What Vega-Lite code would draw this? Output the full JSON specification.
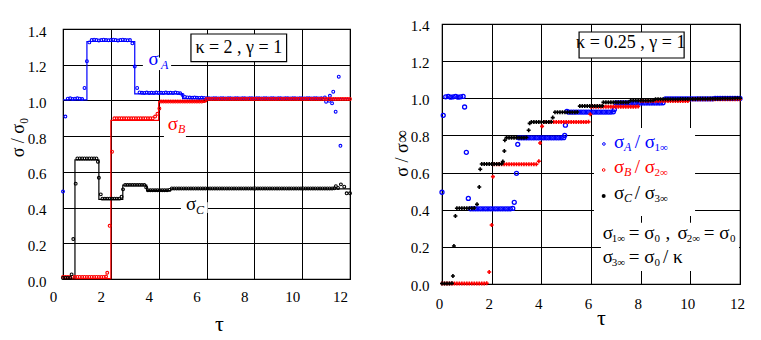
{
"$schema":"https://vega.github.io/schema/vega-lite/v6.json",
"background":"white",
"padding":{"left":8,"top":17,"right":0,"bottom":0},
"config":{
 "font":"Liberation Serif",
 "view":{"stroke":"black","strokeWidth":1.2},
 "axis":{"grid":true,"gridColor":"black","gridWidth":1,"gridOpacity":1,"domain":false,"ticks":false,"labelFlush":false,"labelOverlap":false,"labelFont":"Liberation Serif","labelFontSize":15,"labelColor":"black","titleFont":"Liberation Serif","titleFontWeight":"normal","titleColor":"black"},
 "text":{"font":"Liberation Serif"}
},
"datasets":{
"Ll":[{"s":"A","t":0,"v":1.003},{"s":"A","t":1,"v":1.33},{"s":"A","t":3,"v":1.037},{"s":"A","t":5,"v":1.01},{"s":"A","t":12,"v":1.01},
{"s":"B","t":0,"v":0.002},{"s":"B","t":2,"v":0.888},{"s":"B","t":4,"v":0.993},{"s":"B","t":6,"v":1.008},{"s":"B","t":12,"v":1.008},
{"s":"C","t":0,"v":0.004},{"s":"C","t":0.5,"v":0.667},{"s":"C","t":1.5,"v":0.446},{"s":"C","t":2.5,"v":0.526},{"s":"C","t":3.5,"v":0.495},{"s":"C","t":4.5,"v":0.505},{"s":"C","t":12,"v":0.505}],
"Lp":[
{"s":"A","t":0,"v":0.49},{"s":"A","t":0.1,"v":0.91},{"s":"A","t":0.2,"v":1.01},{"s":"A","t":0.3,"v":1.012},{"s":"A","t":0.4,"v":1.008},{"s":"A","t":0.5,"v":1.01},{"s":"A","t":0.6,"v":1.012},{"s":"A","t":0.7,"v":1.01},{"s":"A","t":0.8,"v":1.008},{"s":"A","t":0.9,"v":1.07},{"s":"A","t":1,"v":1.22},{"s":"A","t":1.1,"v":1.325},{"s":"A","t":1.2,"v":1.338},{"s":"A","t":1.3,"v":1.34},{"s":"A","t":1.4,"v":1.338},{"s":"A","t":1.5,"v":1.336},{"s":"A","t":1.6,"v":1.338},{"s":"A","t":1.7,"v":1.34},{"s":"A","t":1.8,"v":1.338},{"s":"A","t":1.9,"v":1.337},{"s":"A","t":2,"v":1.338},{"s":"A","t":2.1,"v":1.34},{"s":"A","t":2.2,"v":1.338},{"s":"A","t":2.3,"v":1.336},{"s":"A","t":2.4,"v":1.338},{"s":"A","t":2.5,"v":1.34},{"s":"A","t":2.6,"v":1.338},{"s":"A","t":2.7,"v":1.337},{"s":"A","t":2.8,"v":1.338},{"s":"A","t":2.9,"v":1.32},{"s":"A","t":3,"v":1.19},{"s":"A","t":3.1,"v":1.07},{"s":"A","t":3.2,"v":1.045},{"s":"A","t":3.3,"v":1.043},{"s":"A","t":3.4,"v":1.042},{"s":"A","t":3.5,"v":1.044},{"s":"A","t":3.6,"v":1.042},{"s":"A","t":3.7,"v":1.043},{"s":"A","t":3.8,"v":1.042},{"s":"A","t":3.9,"v":1.044},{"s":"A","t":4,"v":1.042},{"s":"A","t":4.1,"v":1.043},{"s":"A","t":4.2,"v":1.042},{"s":"A","t":4.3,"v":1.044},{"s":"A","t":4.4,"v":1.042},{"s":"A","t":4.5,"v":1.043},{"s":"A","t":4.6,"v":1.042},{"s":"A","t":4.7,"v":1.044},{"s":"A","t":4.8,"v":1.042},{"s":"A","t":4.9,"v":1.04},{"s":"A","t":5,"v":1.03},{"s":"A","t":5.1,"v":1.02},{"s":"A","t":5.2,"v":1.017},{"s":"A","t":5.3,"v":1.016},{"s":"A","t":5.4,"v":1.015},{"s":"A","t":5.5,"v":1.016},{"s":"A","t":5.6,"v":1.015},{"s":"A","t":5.7,"v":1.014},{"s":"A","t":5.8,"v":1.015},{"s":"A","t":5.9,"v":1.014},{"s":"A","t":6,"v":1.013},
{"s":"A","t":6.1,"v":1.012},{"s":"A","t":6.2,"v":1.011},{"s":"A","t":6.3,"v":1.013},{"s":"A","t":6.4,"v":1.012},{"s":"A","t":6.5,"v":1.011},{"s":"A","t":6.6,"v":1.013},{"s":"A","t":6.7,"v":1.012},{"s":"A","t":6.8,"v":1.011},{"s":"A","t":6.9,"v":1.013},{"s":"A","t":7,"v":1.012},{"s":"A","t":7.1,"v":1.011},{"s":"A","t":7.2,"v":1.013},{"s":"A","t":7.3,"v":1.012},{"s":"A","t":7.4,"v":1.011},{"s":"A","t":7.5,"v":1.013},{"s":"A","t":7.6,"v":1.012},{"s":"A","t":7.7,"v":1.011},{"s":"A","t":7.8,"v":1.013},{"s":"A","t":7.9,"v":1.012},{"s":"A","t":8,"v":1.011},{"s":"A","t":8.1,"v":1.013},{"s":"A","t":8.2,"v":1.012},{"s":"A","t":8.3,"v":1.011},{"s":"A","t":8.4,"v":1.013},{"s":"A","t":8.5,"v":1.012},{"s":"A","t":8.6,"v":1.011},{"s":"A","t":8.7,"v":1.013},{"s":"A","t":8.8,"v":1.012},{"s":"A","t":8.9,"v":1.011},{"s":"A","t":9,"v":1.013},{"s":"A","t":9.1,"v":1.012},{"s":"A","t":9.2,"v":1.011},{"s":"A","t":9.3,"v":1.013},{"s":"A","t":9.4,"v":1.012},{"s":"A","t":9.5,"v":1.011},{"s":"A","t":9.6,"v":1.013},{"s":"A","t":9.7,"v":1.012},{"s":"A","t":9.8,"v":1.011},{"s":"A","t":9.9,"v":1.013},{"s":"A","t":10,"v":1.012},{"s":"A","t":10.1,"v":1.011},{"s":"A","t":10.2,"v":1.013},{"s":"A","t":10.3,"v":1.012},{"s":"A","t":10.4,"v":1.011},{"s":"A","t":10.5,"v":1.013},{"s":"A","t":10.6,"v":1.012},{"s":"A","t":10.7,"v":1.011},{"s":"A","t":10.8,"v":1.013},
{"s":"A","t":10.95,"v":1.017},{"s":"A","t":11,"v":0.993},{"s":"A","t":11.13,"v":0.998},{"s":"A","t":11.16,"v":1.026},{"s":"A","t":11.25,"v":0.984},{"s":"A","t":11.3,"v":1.049},{"s":"A","t":11.4,"v":0.937},{"s":"A","t":11.53,"v":1.133},{"s":"A","t":11.6,"v":0.746},
{"s":"B","t":0,"v":0.012},{"s":"B","t":0.1,"v":0.012},{"s":"B","t":0.2,"v":0.012},{"s":"B","t":0.3,"v":0.012},{"s":"B","t":0.4,"v":0.012},{"s":"B","t":0.5,"v":0.012},{"s":"B","t":0.6,"v":0.012},{"s":"B","t":0.7,"v":0.012},{"s":"B","t":0.8,"v":0.012},{"s":"B","t":0.9,"v":0.012},{"s":"B","t":1,"v":0.012},{"s":"B","t":1.1,"v":0.012},{"s":"B","t":1.2,"v":0.012},{"s":"B","t":1.3,"v":0.012},{"s":"B","t":1.4,"v":0.012},{"s":"B","t":1.5,"v":0.012},{"s":"B","t":1.6,"v":0.012},{"s":"B","t":1.7,"v":0.012},{"s":"B","t":1.8,"v":0.014},
{"s":"B","t":1.85,"v":0.035},{"s":"B","t":1.95,"v":0.298},{"s":"B","t":2.05,"v":0.713},
{"s":"B","t":2.15,"v":0.9},{"s":"B","t":2.25,"v":0.9},{"s":"B","t":2.35,"v":0.9},{"s":"B","t":2.45,"v":0.9},{"s":"B","t":2.55,"v":0.9},{"s":"B","t":2.65,"v":0.9},{"s":"B","t":2.75,"v":0.9},{"s":"B","t":2.85,"v":0.9},{"s":"B","t":2.95,"v":0.9},{"s":"B","t":3.05,"v":0.9},{"s":"B","t":3.15,"v":0.9},{"s":"B","t":3.25,"v":0.9},{"s":"B","t":3.35,"v":0.9},{"s":"B","t":3.45,"v":0.9},{"s":"B","t":3.55,"v":0.9},{"s":"B","t":3.65,"v":0.9},{"s":"B","t":3.75,"v":0.9},
{"s":"B","t":3.85,"v":0.91},{"s":"B","t":3.95,"v":0.925},{"s":"B","t":4.03,"v":0.955},
{"s":"B","t":4.1,"v":0.994},{"s":"B","t":4.2,"v":0.994},{"s":"B","t":4.3,"v":0.994},{"s":"B","t":4.4,"v":0.994},{"s":"B","t":4.5,"v":0.994},{"s":"B","t":4.6,"v":0.994},{"s":"B","t":4.7,"v":0.994},{"s":"B","t":4.8,"v":0.994},{"s":"B","t":4.9,"v":0.994},{"s":"B","t":5,"v":0.994},{"s":"B","t":5.1,"v":0.994},{"s":"B","t":5.2,"v":0.994},{"s":"B","t":5.3,"v":0.994},{"s":"B","t":5.4,"v":0.994},{"s":"B","t":5.5,"v":0.994},{"s":"B","t":5.6,"v":0.994},{"s":"B","t":5.7,"v":0.994},{"s":"B","t":5.8,"v":0.994},{"s":"B","t":5.9,"v":0.996},
{"s":"B","t":6,"v":1.008},{"s":"B","t":6.1,"v":1.008},{"s":"B","t":6.2,"v":1.008},{"s":"B","t":6.3,"v":1.008},{"s":"B","t":6.4,"v":1.008},{"s":"B","t":6.5,"v":1.008},{"s":"B","t":6.6,"v":1.008},{"s":"B","t":6.7,"v":1.008},{"s":"B","t":6.8,"v":1.008},{"s":"B","t":6.9,"v":1.008},{"s":"B","t":7,"v":1.008},{"s":"B","t":7.1,"v":1.008},{"s":"B","t":7.2,"v":1.008},{"s":"B","t":7.3,"v":1.008},{"s":"B","t":7.4,"v":1.008},{"s":"B","t":7.5,"v":1.008},{"s":"B","t":7.6,"v":1.008},{"s":"B","t":7.7,"v":1.008},{"s":"B","t":7.8,"v":1.008},{"s":"B","t":7.9,"v":1.008},{"s":"B","t":8,"v":1.008},{"s":"B","t":8.1,"v":1.008},{"s":"B","t":8.2,"v":1.008},{"s":"B","t":8.3,"v":1.008},{"s":"B","t":8.4,"v":1.008},{"s":"B","t":8.5,"v":1.008},{"s":"B","t":8.6,"v":1.008},{"s":"B","t":8.7,"v":1.008},{"s":"B","t":8.8,"v":1.008},{"s":"B","t":8.9,"v":1.008},{"s":"B","t":9,"v":1.008},{"s":"B","t":9.1,"v":1.008},{"s":"B","t":9.2,"v":1.008},{"s":"B","t":9.3,"v":1.008},{"s":"B","t":9.4,"v":1.008},{"s":"B","t":9.5,"v":1.008},{"s":"B","t":9.6,"v":1.008},{"s":"B","t":9.7,"v":1.008},{"s":"B","t":9.8,"v":1.008},{"s":"B","t":9.9,"v":1.008},{"s":"B","t":10,"v":1.008},{"s":"B","t":10.1,"v":1.008},{"s":"B","t":10.2,"v":1.008},{"s":"B","t":10.3,"v":1.008},{"s":"B","t":10.4,"v":1.008},{"s":"B","t":10.5,"v":1.008},{"s":"B","t":10.6,"v":1.008},{"s":"B","t":10.7,"v":1.008},{"s":"B","t":10.8,"v":1.008},{"s":"B","t":10.9,"v":1.008},{"s":"B","t":11,"v":1.008},{"s":"B","t":11.1,"v":1.008},{"s":"B","t":11.2,"v":1.008},{"s":"B","t":11.3,"v":1.008},{"s":"B","t":11.4,"v":1.008},{"s":"B","t":11.5,"v":1.008},{"s":"B","t":11.6,"v":1.008},{"s":"B","t":11.7,"v":1.008},{"s":"B","t":11.8,"v":1.008},{"s":"B","t":11.9,"v":1.008},{"s":"B","t":12,"v":1.008},
{"s":"C","t":0,"v":0.006},{"s":"C","t":0.1,"v":0.006},{"s":"C","t":0.2,"v":0.006},{"s":"C","t":0.3,"v":0.006},{"s":"C","t":0.36,"v":0.026},{"s":"C","t":0.43,"v":0.224},{"s":"C","t":0.53,"v":0.534},
{"s":"C","t":0.6,"v":0.675},{"s":"C","t":0.7,"v":0.675},{"s":"C","t":0.8,"v":0.675},{"s":"C","t":0.9,"v":0.675},{"s":"C","t":1,"v":0.675},{"s":"C","t":1.1,"v":0.675},{"s":"C","t":1.2,"v":0.675},{"s":"C","t":1.3,"v":0.675},{"s":"C","t":1.4,"v":0.675},
{"s":"C","t":1.46,"v":0.657},{"s":"C","t":1.5,"v":0.567},{"s":"C","t":1.58,"v":0.474},
{"s":"C","t":1.65,"v":0.45},{"s":"C","t":1.75,"v":0.45},{"s":"C","t":1.85,"v":0.45},{"s":"C","t":1.95,"v":0.45},{"s":"C","t":2.05,"v":0.45},{"s":"C","t":2.15,"v":0.45},{"s":"C","t":2.25,"v":0.45},{"s":"C","t":2.35,"v":0.45},
{"s":"C","t":2.45,"v":0.461},{"s":"C","t":2.51,"v":0.502},
{"s":"C","t":2.6,"v":0.527},{"s":"C","t":2.7,"v":0.527},{"s":"C","t":2.8,"v":0.527},{"s":"C","t":2.9,"v":0.527},{"s":"C","t":3,"v":0.527},{"s":"C","t":3.1,"v":0.527},{"s":"C","t":3.2,"v":0.527},{"s":"C","t":3.3,"v":0.527},{"s":"C","t":3.4,"v":0.527},
{"s":"C","t":3.48,"v":0.513},
{"s":"C","t":3.55,"v":0.497},{"s":"C","t":3.65,"v":0.497},{"s":"C","t":3.75,"v":0.497},{"s":"C","t":3.85,"v":0.497},{"s":"C","t":3.95,"v":0.497},{"s":"C","t":4.05,"v":0.497},{"s":"C","t":4.15,"v":0.497},{"s":"C","t":4.25,"v":0.497},{"s":"C","t":4.35,"v":0.497},{"s":"C","t":4.45,"v":0.499},
{"s":"C","t":4.55,"v":0.507},{"s":"C","t":4.65,"v":0.507},{"s":"C","t":4.75,"v":0.507},{"s":"C","t":4.85,"v":0.507},{"s":"C","t":4.95,"v":0.507},{"s":"C","t":5.05,"v":0.507},{"s":"C","t":5.15,"v":0.507},{"s":"C","t":5.25,"v":0.507},{"s":"C","t":5.35,"v":0.507},{"s":"C","t":5.45,"v":0.507},{"s":"C","t":5.55,"v":0.507},{"s":"C","t":5.65,"v":0.507},{"s":"C","t":5.75,"v":0.507},{"s":"C","t":5.85,"v":0.507},{"s":"C","t":5.95,"v":0.507},{"s":"C","t":6.05,"v":0.507},{"s":"C","t":6.15,"v":0.507},{"s":"C","t":6.25,"v":0.507},{"s":"C","t":6.35,"v":0.507},{"s":"C","t":6.45,"v":0.507},{"s":"C","t":6.55,"v":0.507},{"s":"C","t":6.65,"v":0.507},{"s":"C","t":6.75,"v":0.507},{"s":"C","t":6.85,"v":0.507},{"s":"C","t":6.95,"v":0.507},{"s":"C","t":7.05,"v":0.507},{"s":"C","t":7.15,"v":0.507},{"s":"C","t":7.25,"v":0.507},{"s":"C","t":7.35,"v":0.507},{"s":"C","t":7.45,"v":0.507},{"s":"C","t":7.55,"v":0.507},{"s":"C","t":7.65,"v":0.507},{"s":"C","t":7.75,"v":0.507},{"s":"C","t":7.85,"v":0.507},{"s":"C","t":7.95,"v":0.507},{"s":"C","t":8.05,"v":0.507},{"s":"C","t":8.15,"v":0.507},{"s":"C","t":8.25,"v":0.507},{"s":"C","t":8.35,"v":0.507},{"s":"C","t":8.45,"v":0.507},{"s":"C","t":8.55,"v":0.507},{"s":"C","t":8.65,"v":0.507},{"s":"C","t":8.75,"v":0.507},{"s":"C","t":8.85,"v":0.507},{"s":"C","t":8.95,"v":0.507},{"s":"C","t":9.05,"v":0.507},{"s":"C","t":9.15,"v":0.507},{"s":"C","t":9.25,"v":0.507},{"s":"C","t":9.35,"v":0.507},{"s":"C","t":9.45,"v":0.507},{"s":"C","t":9.55,"v":0.507},{"s":"C","t":9.65,"v":0.507},{"s":"C","t":9.75,"v":0.507},{"s":"C","t":9.85,"v":0.507},{"s":"C","t":9.95,"v":0.507},{"s":"C","t":10.05,"v":0.507},{"s":"C","t":10.15,"v":0.507},{"s":"C","t":10.25,"v":0.507},{"s":"C","t":10.35,"v":0.507},{"s":"C","t":10.45,"v":0.507},{"s":"C","t":10.55,"v":0.507},{"s":"C","t":10.65,"v":0.507},{"s":"C","t":10.75,"v":0.507},{"s":"C","t":10.85,"v":0.507},{"s":"C","t":10.95,"v":0.507},{"s":"C","t":11.05,"v":0.507},{"s":"C","t":11.15,"v":0.507},{"s":"C","t":11.25,"v":0.507},{"s":"C","t":11.35,"v":0.508},
{"s":"C","t":11.41,"v":0.52},{"s":"C","t":11.5,"v":0.51},{"s":"C","t":11.62,"v":0.53},{"s":"C","t":11.76,"v":0.517},{"s":"C","t":11.86,"v":0.48},{"s":"C","t":12,"v":0.48}
],
"Lr":[{"t":3.34,"t2":4.52,"v":1.17,"v2":1.24},{"t":4.22,"t2":5.14,"v":0.78,"v2":0.83},{"t":4.93,"t2":6.05,"v":0.37,"v2":0.43}],
"Lb":[{"t":5.35,"t2":9.35,"v":1.217,"v2":1.372}],
"Lt":[{"s":"A","k":"m","t":3.58,"v":1.198,"txt":"σ"},{"s":"A","k":"si","t":4.1,"v":1.176,"txt":"A"},
{"s":"B","k":"m","t":4.38,"v":0.834,"txt":"σ"},{"s":"B","k":"si","t":4.81,"v":0.816,"txt":"B"},
{"s":"C","k":"m","t":5.14,"v":0.386,"txt":"σ"},{"s":"C","k":"si","t":5.56,"v":0.364,"txt":"C"},
{"s":"K","k":"b","t":7.35,"v":1.267,"txt":"κ = 2 , γ = 1"}],
"Rp":[
{"s":"A","t":0,"v":0.494},{"s":"A","t":0.05,"v":0.908},{"s":"A","t":0.15,"v":1.008},{"s":"A","t":0.25,"v":1.01},{"s":"A","t":0.35,"v":1.006},{"s":"A","t":0.45,"v":1.008},{"s":"A","t":0.55,"v":1.01},{"s":"A","t":0.65,"v":1.006},{"s":"A","t":0.75,"v":1.008},{"s":"A","t":0.85,"v":1.01},
{"s":"A","t":0.91,"v":0.953},{"s":"A","t":0.98,"v":0.709},{"s":"A","t":1.06,"v":0.461},
{"s":"A","t":1.15,"v":0.405},{"s":"A","t":1.25,"v":0.405},{"s":"A","t":1.35,"v":0.405},{"s":"A","t":1.45,"v":0.405},{"s":"A","t":1.55,"v":0.405},{"s":"A","t":1.65,"v":0.405},{"s":"A","t":1.75,"v":0.405},{"s":"A","t":1.85,"v":0.405},{"s":"A","t":1.95,"v":0.405},{"s":"A","t":2.05,"v":0.405},{"s":"A","t":2.15,"v":0.405},{"s":"A","t":2.25,"v":0.405},{"s":"A","t":2.35,"v":0.405},{"s":"A","t":2.45,"v":0.405},{"s":"A","t":2.55,"v":0.405},{"s":"A","t":2.65,"v":0.405},{"s":"A","t":2.75,"v":0.405},{"s":"A","t":2.85,"v":0.407},
{"s":"A","t":2.91,"v":0.44},{"s":"A","t":3,"v":0.596},{"s":"A","t":3.05,"v":0.752},
{"s":"A","t":3.1,"v":0.787},{"s":"A","t":3.2,"v":0.787},{"s":"A","t":3.3,"v":0.787},{"s":"A","t":3.4,"v":0.787},{"s":"A","t":3.5,"v":0.787},{"s":"A","t":3.6,"v":0.787},{"s":"A","t":3.7,"v":0.787},{"s":"A","t":3.8,"v":0.787},{"s":"A","t":3.9,"v":0.787},{"s":"A","t":4,"v":0.787},{"s":"A","t":4.1,"v":0.787},{"s":"A","t":4.2,"v":0.787},{"s":"A","t":4.3,"v":0.787},{"s":"A","t":4.4,"v":0.787},{"s":"A","t":4.5,"v":0.787},{"s":"A","t":4.6,"v":0.787},{"s":"A","t":4.7,"v":0.787},{"s":"A","t":4.8,"v":0.787},{"s":"A","t":4.9,"v":0.788},
{"s":"A","t":4.94,"v":0.8},{"s":"A","t":4.97,"v":0.855},{"s":"A","t":5.03,"v":0.93},
{"s":"A","t":5.1,"v":0.926},{"s":"A","t":5.2,"v":0.926},{"s":"A","t":5.3,"v":0.926},{"s":"A","t":5.4,"v":0.926},{"s":"A","t":5.5,"v":0.926},{"s":"A","t":5.6,"v":0.926},{"s":"A","t":5.7,"v":0.926},{"s":"A","t":5.8,"v":0.926},{"s":"A","t":5.9,"v":0.926},{"s":"A","t":6,"v":0.926},{"s":"A","t":6.1,"v":0.926},{"s":"A","t":6.2,"v":0.926},{"s":"A","t":6.3,"v":0.926},{"s":"A","t":6.4,"v":0.926},{"s":"A","t":6.5,"v":0.926},{"s":"A","t":6.6,"v":0.926},{"s":"A","t":6.7,"v":0.926},{"s":"A","t":6.8,"v":0.926},{"s":"A","t":6.9,"v":0.927},
{"s":"A","t":6.94,"v":0.94},
{"s":"A","t":7,"v":0.975},{"s":"A","t":7.1,"v":0.975},{"s":"A","t":7.2,"v":0.975},{"s":"A","t":7.3,"v":0.975},{"s":"A","t":7.4,"v":0.975},{"s":"A","t":7.5,"v":0.975},{"s":"A","t":7.6,"v":0.975},{"s":"A","t":7.7,"v":0.975},{"s":"A","t":7.8,"v":0.975},{"s":"A","t":7.9,"v":0.975},{"s":"A","t":8,"v":0.975},{"s":"A","t":8.1,"v":0.975},{"s":"A","t":8.2,"v":0.975},{"s":"A","t":8.3,"v":0.975},{"s":"A","t":8.4,"v":0.975},{"s":"A","t":8.5,"v":0.975},{"s":"A","t":8.6,"v":0.975},{"s":"A","t":8.7,"v":0.975},{"s":"A","t":8.8,"v":0.975},{"s":"A","t":8.9,"v":0.976},
{"s":"A","t":9,"v":0.997},{"s":"A","t":9.1,"v":0.997},{"s":"A","t":9.2,"v":0.997},{"s":"A","t":9.3,"v":0.997},{"s":"A","t":9.4,"v":0.997},{"s":"A","t":9.5,"v":0.997},{"s":"A","t":9.6,"v":0.997},{"s":"A","t":9.7,"v":0.997},{"s":"A","t":9.8,"v":0.997},{"s":"A","t":9.9,"v":0.997},{"s":"A","t":10,"v":0.997},{"s":"A","t":10.1,"v":0.997},{"s":"A","t":10.2,"v":0.997},{"s":"A","t":10.3,"v":0.997},{"s":"A","t":10.4,"v":0.997},{"s":"A","t":10.5,"v":0.997},{"s":"A","t":10.6,"v":0.997},{"s":"A","t":10.7,"v":0.997},{"s":"A","t":10.8,"v":0.997},{"s":"A","t":10.9,"v":0.997},{"s":"A","t":11,"v":0.999},{"s":"A","t":11.1,"v":0.999},{"s":"A","t":11.2,"v":0.999},{"s":"A","t":11.3,"v":0.999},{"s":"A","t":11.4,"v":0.999},{"s":"A","t":11.5,"v":0.999},{"s":"A","t":11.6,"v":0.999},{"s":"A","t":11.7,"v":0.999},{"s":"A","t":11.8,"v":0.999},{"s":"A","t":11.9,"v":0.999},{"s":"A","t":12,"v":0.999},
{"s":"B","t":0,"v":0.003},{"s":"B","t":0.1,"v":0.003},{"s":"B","t":0.2,"v":0.003},{"s":"B","t":0.3,"v":0.003},{"s":"B","t":0.4,"v":0.003},{"s":"B","t":0.5,"v":0.003},{"s":"B","t":0.6,"v":0.003},{"s":"B","t":0.7,"v":0.003},{"s":"B","t":0.8,"v":0.003},{"s":"B","t":0.9,"v":0.003},{"s":"B","t":1,"v":0.003},{"s":"B","t":1.1,"v":0.003},{"s":"B","t":1.2,"v":0.003},{"s":"B","t":1.3,"v":0.003},{"s":"B","t":1.4,"v":0.003},{"s":"B","t":1.5,"v":0.003},{"s":"B","t":1.6,"v":0.003},{"s":"B","t":1.7,"v":0.003},{"s":"B","t":1.8,"v":0.004},
{"s":"B","t":1.9,"v":0.065},{"s":"B","t":2,"v":0.318},{"s":"B","t":2.05,"v":0.578},
{"s":"B","t":2.1,"v":0.645},{"s":"B","t":2.2,"v":0.645},{"s":"B","t":2.3,"v":0.645},{"s":"B","t":2.4,"v":0.645},{"s":"B","t":2.5,"v":0.645},{"s":"B","t":2.6,"v":0.645},{"s":"B","t":2.7,"v":0.645},{"s":"B","t":2.8,"v":0.645},{"s":"B","t":2.9,"v":0.645},{"s":"B","t":3,"v":0.645},{"s":"B","t":3.1,"v":0.645},{"s":"B","t":3.2,"v":0.645},{"s":"B","t":3.3,"v":0.645},{"s":"B","t":3.4,"v":0.645},{"s":"B","t":3.5,"v":0.645},{"s":"B","t":3.6,"v":0.645},{"s":"B","t":3.7,"v":0.645},{"s":"B","t":3.8,"v":0.645},
{"s":"B","t":3.9,"v":0.661},{"s":"B","t":3.95,"v":0.759},{"s":"B","t":4.03,"v":0.849},
{"s":"B","t":4.1,"v":0.872},{"s":"B","t":4.2,"v":0.872},{"s":"B","t":4.3,"v":0.872},{"s":"B","t":4.4,"v":0.872},{"s":"B","t":4.5,"v":0.872},{"s":"B","t":4.6,"v":0.872},{"s":"B","t":4.7,"v":0.872},{"s":"B","t":4.8,"v":0.872},{"s":"B","t":4.9,"v":0.872},{"s":"B","t":5,"v":0.872},{"s":"B","t":5.1,"v":0.872},{"s":"B","t":5.2,"v":0.872},{"s":"B","t":5.3,"v":0.872},{"s":"B","t":5.4,"v":0.872},{"s":"B","t":5.5,"v":0.872},{"s":"B","t":5.6,"v":0.872},{"s":"B","t":5.7,"v":0.872},{"s":"B","t":5.8,"v":0.872},{"s":"B","t":5.9,"v":0.873},
{"s":"B","t":5.97,"v":0.914},
{"s":"B","t":6,"v":0.955},{"s":"B","t":6.1,"v":0.955},{"s":"B","t":6.2,"v":0.955},{"s":"B","t":6.3,"v":0.955},{"s":"B","t":6.4,"v":0.955},{"s":"B","t":6.5,"v":0.955},{"s":"B","t":6.6,"v":0.955},{"s":"B","t":6.7,"v":0.955},{"s":"B","t":6.8,"v":0.955},{"s":"B","t":6.9,"v":0.955},{"s":"B","t":7,"v":0.955},{"s":"B","t":7.1,"v":0.955},{"s":"B","t":7.2,"v":0.955},{"s":"B","t":7.3,"v":0.955},{"s":"B","t":7.4,"v":0.955},{"s":"B","t":7.5,"v":0.955},{"s":"B","t":7.6,"v":0.955},{"s":"B","t":7.7,"v":0.955},{"s":"B","t":7.8,"v":0.955},{"s":"B","t":7.9,"v":0.956},
{"s":"B","t":8,"v":0.985},{"s":"B","t":8.1,"v":0.985},{"s":"B","t":8.2,"v":0.985},{"s":"B","t":8.3,"v":0.985},{"s":"B","t":8.4,"v":0.985},{"s":"B","t":8.5,"v":0.985},{"s":"B","t":8.6,"v":0.985},{"s":"B","t":8.7,"v":0.985},{"s":"B","t":8.8,"v":0.985},{"s":"B","t":8.9,"v":0.985},{"s":"B","t":9,"v":0.985},{"s":"B","t":9.1,"v":0.985},{"s":"B","t":9.2,"v":0.985},{"s":"B","t":9.3,"v":0.985},{"s":"B","t":9.4,"v":0.985},{"s":"B","t":9.5,"v":0.985},{"s":"B","t":9.6,"v":0.985},{"s":"B","t":9.7,"v":0.985},{"s":"B","t":9.8,"v":0.985},{"s":"B","t":9.9,"v":0.986},
{"s":"B","t":10,"v":0.995},{"s":"B","t":10.1,"v":0.995},{"s":"B","t":10.2,"v":0.995},{"s":"B","t":10.3,"v":0.995},{"s":"B","t":10.4,"v":0.995},{"s":"B","t":10.5,"v":0.995},{"s":"B","t":10.6,"v":0.995},{"s":"B","t":10.7,"v":0.995},{"s":"B","t":10.8,"v":0.995},{"s":"B","t":10.9,"v":0.995},{"s":"B","t":11,"v":0.995},{"s":"B","t":11.1,"v":0.995},{"s":"B","t":11.2,"v":0.995},{"s":"B","t":11.3,"v":0.995},{"s":"B","t":11.4,"v":0.995},{"s":"B","t":11.5,"v":0.995},{"s":"B","t":11.6,"v":0.995},{"s":"B","t":11.7,"v":0.995},{"s":"B","t":11.8,"v":0.995},{"s":"B","t":11.9,"v":0.995},{"s":"B","t":12,"v":0.995},
{"s":"C","t":0,"v":0.003},{"s":"C","t":0.1,"v":0.003},{"s":"C","t":0.2,"v":0.003},{"s":"C","t":0.3,"v":0.003},{"s":"C","t":0.4,"v":0.004},
{"s":"C","t":0.44,"v":0.043},{"s":"C","t":0.48,"v":0.205},{"s":"C","t":0.54,"v":0.366},
{"s":"C","t":0.6,"v":0.408},{"s":"C","t":0.7,"v":0.408},{"s":"C","t":0.8,"v":0.408},{"s":"C","t":0.9,"v":0.408},{"s":"C","t":1,"v":0.408},{"s":"C","t":1.1,"v":0.408},{"s":"C","t":1.2,"v":0.408},{"s":"C","t":1.3,"v":0.409},
{"s":"C","t":1.41,"v":0.429},{"s":"C","t":1.5,"v":0.522},{"s":"C","t":1.54,"v":0.618},
{"s":"C","t":1.6,"v":0.646},{"s":"C","t":1.7,"v":0.646},{"s":"C","t":1.8,"v":0.646},{"s":"C","t":1.9,"v":0.646},{"s":"C","t":2,"v":0.646},{"s":"C","t":2.1,"v":0.646},{"s":"C","t":2.2,"v":0.646},{"s":"C","t":2.3,"v":0.646},{"s":"C","t":2.4,"v":0.647},
{"s":"C","t":2.45,"v":0.659},{"s":"C","t":2.51,"v":0.716},{"s":"C","t":2.53,"v":0.774},
{"s":"C","t":2.6,"v":0.788},{"s":"C","t":2.7,"v":0.788},{"s":"C","t":2.8,"v":0.788},{"s":"C","t":2.9,"v":0.788},{"s":"C","t":3,"v":0.788},{"s":"C","t":3.1,"v":0.788},{"s":"C","t":3.2,"v":0.788},{"s":"C","t":3.3,"v":0.788},{"s":"C","t":3.4,"v":0.789},
{"s":"C","t":3.49,"v":0.828},{"s":"C","t":3.53,"v":0.865},
{"s":"C","t":3.6,"v":0.872},{"s":"C","t":3.7,"v":0.872},{"s":"C","t":3.8,"v":0.872},{"s":"C","t":3.9,"v":0.872},{"s":"C","t":4,"v":0.872},{"s":"C","t":4.1,"v":0.872},{"s":"C","t":4.2,"v":0.872},{"s":"C","t":4.3,"v":0.872},{"s":"C","t":4.4,"v":0.873},
{"s":"C","t":4.46,"v":0.896},
{"s":"C","t":4.55,"v":0.925},{"s":"C","t":4.65,"v":0.925},{"s":"C","t":4.75,"v":0.925},{"s":"C","t":4.85,"v":0.925},{"s":"C","t":4.95,"v":0.925},{"s":"C","t":5.05,"v":0.925},{"s":"C","t":5.15,"v":0.925},{"s":"C","t":5.25,"v":0.925},{"s":"C","t":5.35,"v":0.925},{"s":"C","t":5.45,"v":0.926},
{"s":"C","t":5.55,"v":0.958},{"s":"C","t":5.65,"v":0.958},{"s":"C","t":5.75,"v":0.958},{"s":"C","t":5.85,"v":0.958},{"s":"C","t":5.95,"v":0.958},{"s":"C","t":6.05,"v":0.958},{"s":"C","t":6.15,"v":0.958},{"s":"C","t":6.25,"v":0.958},{"s":"C","t":6.35,"v":0.958},{"s":"C","t":6.45,"v":0.959},
{"s":"C","t":6.5,"v":0.978},{"s":"C","t":6.6,"v":0.978},{"s":"C","t":6.7,"v":0.978},{"s":"C","t":6.8,"v":0.978},{"s":"C","t":6.9,"v":0.978},{"s":"C","t":7,"v":0.978},{"s":"C","t":7.1,"v":0.978},{"s":"C","t":7.2,"v":0.978},{"s":"C","t":7.3,"v":0.978},{"s":"C","t":7.4,"v":0.978},{"s":"C","t":7.5,"v":0.979},
{"s":"C","t":7.6,"v":0.988},{"s":"C","t":7.7,"v":0.988},{"s":"C","t":7.8,"v":0.988},{"s":"C","t":7.9,"v":0.988},{"s":"C","t":8,"v":0.988},{"s":"C","t":8.1,"v":0.988},{"s":"C","t":8.2,"v":0.988},{"s":"C","t":8.3,"v":0.988},{"s":"C","t":8.4,"v":0.988},{"s":"C","t":8.5,"v":0.989},
{"s":"C","t":8.6,"v":0.995},{"s":"C","t":8.7,"v":0.995},{"s":"C","t":8.8,"v":0.995},{"s":"C","t":8.9,"v":0.995},{"s":"C","t":9,"v":0.995},{"s":"C","t":9.1,"v":0.995},{"s":"C","t":9.2,"v":0.995},{"s":"C","t":9.3,"v":0.995},{"s":"C","t":9.4,"v":0.995},{"s":"C","t":9.5,"v":0.995},{"s":"C","t":9.6,"v":0.996},{"s":"C","t":9.7,"v":0.996},{"s":"C","t":9.8,"v":0.996},{"s":"C","t":9.9,"v":0.996},{"s":"C","t":10,"v":0.996},{"s":"C","t":10.1,"v":0.996},{"s":"C","t":10.2,"v":0.996},{"s":"C","t":10.3,"v":0.997},{"s":"C","t":10.4,"v":0.997},{"s":"C","t":10.5,"v":0.997},{"s":"C","t":10.6,"v":0.997},{"s":"C","t":10.7,"v":0.997},{"s":"C","t":10.8,"v":0.998},{"s":"C","t":10.9,"v":0.998},{"s":"C","t":11,"v":0.998},{"s":"C","t":11.1,"v":0.998},{"s":"C","t":11.2,"v":0.998},{"s":"C","t":11.3,"v":0.999},{"s":"C","t":11.4,"v":0.999},{"s":"C","t":11.5,"v":0.999},{"s":"C","t":11.6,"v":0.999},{"s":"C","t":11.7,"v":0.999},{"s":"C","t":11.8,"v":1},{"s":"C","t":11.9,"v":1},{"s":"C","t":12,"v":1}
],
"Rr":[{"t":6.12,"t2":10.19,"v":0.366,"v2":0.84},{"t":6.4,"t2":11.96,"v":0.07,"v2":0.33}],
"Rb":[{"t":5.52,"t2":9.75,"v":1.217,"v2":1.357}],
"Rm":[{"s":"A","k":"o","t":6.52,"v":0.754},{"s":"B","k":"o","t":6.51,"v":0.614},{"s":"C","k":"f","t":6.51,"v":0.474}],
"Rt":[
{"s":"K","k":"b","t":7.6,"v":1.272,"txt":"κ = 0.25 , γ = 1"},
{"s":"A","k":"m","t":6.93,"v":0.734,"txt":"σ"},{"s":"A","k":"si","t":7.33,"v":0.716,"txt":"A"},{"s":"A","k":"m","t":7.76,"v":0.734,"txt":"/ σ"},{"s":"A","k":"su","t":8.56,"v":0.716,"txt":"1∞"},
{"s":"B","k":"m","t":6.93,"v":0.6,"txt":"σ"},{"s":"B","k":"si","t":7.33,"v":0.582,"txt":"B"},{"s":"B","k":"m","t":7.76,"v":0.6,"txt":"/ σ"},{"s":"B","k":"su","t":8.56,"v":0.582,"txt":"2∞"},
{"s":"C","k":"m","t":6.93,"v":0.459,"txt":"σ"},{"s":"C","k":"si","t":7.33,"v":0.442,"txt":"C"},{"s":"C","k":"m","t":7.76,"v":0.459,"txt":"/ σ"},{"s":"C","k":"su","t":8.56,"v":0.442,"txt":"3∞"},
{"s":"K","k":"m","t":6.47,"v":0.242,"txt":"σ"},{"s":"K","k":"su","t":6.84,"v":0.225,"txt":"1∞"},{"s":"K","k":"m","t":7.52,"v":0.242,"txt":"= σ"},{"s":"K","k":"su","t":8.56,"v":0.225,"txt":"0"},{"s":"K","k":"m","t":9.0,"v":0.242,"txt":","},{"s":"K","k":"m","t":9.48,"v":0.242,"txt":"σ"},{"s":"K","k":"su","t":9.86,"v":0.225,"txt":"2∞"},{"s":"K","k":"m","t":10.54,"v":0.242,"txt":"= σ"},{"s":"K","k":"su","t":11.6,"v":0.225,"txt":"0"},
{"s":"K","k":"m","t":6.47,"v":0.115,"txt":"σ"},{"s":"K","k":"su","t":6.84,"v":0.097,"txt":"3∞"},{"s":"K","k":"m","t":7.52,"v":0.115,"txt":"= σ"},{"s":"K","k":"su","t":8.56,"v":0.097,"txt":"0"},{"s":"K","k":"m","t":8.9,"v":0.115,"txt":"/ κ"}
]
},
"hconcat":[
{
 "width":287,"height":250,
 "encoding":{
  "x":{"field":"t","type":"quantitative","scale":{"domain":[0,12],"nice":false,"zero":false},"axis":{"values":[0,2,4,6,8,10,12],"title":"τ","titleFontSize":22,"labelPadding":10,"labelOffset":-10,"titleX":156,"titleY":51,"titleBaseline":"alphabetic","titleAlign":"center"}},
  "y":{"field":"v","type":"quantitative","scale":{"domain":[0,1.4],"nice":false},"axis":{"values":[0,0.2,0.4,0.6,0.8,1,1.2,1.4],"format":".1f","title":"σ / σ₀","titleFontSize":18,"titleAngle":-90,"titleX":-45,"titleY":108,"titleAlign":"center","titleBaseline":"middle","labelPadding":17,"labelOffset":2}},
  "color":{"field":"s","type":"nominal","scale":{"domain":["A","B","C","K"],"range":["#0000ff","#ff0000","#000000","#000000"]},"legend":null}
 },
 "layer":[
  {"data":{"name":"Ll"},"mark":{"type":"line","interpolate":"step-after","strokeWidth":1.2}},
  {"data":{"name":"Lp"},"mark":{"type":"point","filled":false,"size":8,"strokeWidth":1.1,"opacity":1}},
  {"data":{"name":"Lr"},"mark":{"type":"rect"},"encoding":{"x2":{"field":"t2"},"y2":{"field":"v2"},"color":{"value":"white"}}},
  {"data":{"name":"Lb"},"mark":{"type":"rect","stroke":"black","strokeWidth":1.2},"encoding":{"x2":{"field":"t2"},"y2":{"field":"v2"},"color":{"value":"white"}}},
  {"data":{"name":"Lt"},"transform":[{"filter":"datum.k == 'm'"}],"mark":{"type":"text","align":"left","baseline":"alphabetic","fontSize":19},"encoding":{"text":{"field":"txt"}}},
  {"data":{"name":"Lt"},"transform":[{"filter":"datum.k == 'si'"}],"mark":{"type":"text","align":"left","baseline":"alphabetic","fontSize":12,"fontStyle":"italic"},"encoding":{"text":{"field":"txt"}}},
  {"data":{"name":"Lt"},"transform":[{"filter":"datum.k == 'b'"}],"mark":{"type":"text","align":"center","baseline":"alphabetic","fontSize":18},"encoding":{"text":{"field":"txt"}}}
 ]
},
{
 "width":298,"height":260,
 "encoding":{
  "x":{"field":"t","type":"quantitative","scale":{"domain":[0,12],"nice":false,"zero":false},"axis":{"values":[0,2,4,6,8,10,12],"title":"τ","titleFontSize":22,"labelPadding":12,"labelOffset":-3,"titleX":159,"titleY":40,"titleBaseline":"alphabetic","titleAlign":"center"}},
  "y":{"field":"v","type":"quantitative","scale":{"domain":[0,1.4],"nice":false},"axis":{"values":[0,0.2,0.4,0.6,0.8,1,1.2,1.4],"format":".1f","title":"σ / σ∞","titleFontSize":18,"titleAngle":-90,"titleX":-40,"titleY":129,"titleAlign":"center","titleBaseline":"middle","labelPadding":13,"labelOffset":1}},
  "color":{"field":"s","type":"nominal","scale":{"domain":["A","B","C","K"],"range":["#0000ff","#ff0000","#000000","#000000"]},"legend":null}
 },
 "layer":[
  {"data":{"name":"Rp"},"transform":[{"filter":"datum.s == 'A'"}],"mark":{"type":"point","filled":false,"size":16,"strokeWidth":1.3,"opacity":1}},
  {"data":{"name":"Rp"},"transform":[{"filter":"datum.s == 'B'"}],"mark":{"type":"point","shape":"M-1,0L1,0M0,-1L0,1","filled":false,"size":16,"strokeWidth":1.6,"opacity":1}},
  {"data":{"name":"Rp"},"transform":[{"filter":"datum.s == 'C'"}],"mark":{"type":"point","shape":"M-1,0L1,0M0,-1L0,1","filled":false,"size":16,"strokeWidth":1.6,"opacity":1}},
  {"data":{"name":"Rr"},"mark":{"type":"rect"},"encoding":{"x2":{"field":"t2"},"y2":{"field":"v2"},"color":{"value":"white"}}},
  {"data":{"name":"Rb"},"mark":{"type":"rect","stroke":"black","strokeWidth":1.2},"encoding":{"x2":{"field":"t2"},"y2":{"field":"v2"},"color":{"value":"white"}}},
  {"data":{"name":"Rm"},"transform":[{"filter":"datum.k == 'o'"}],"mark":{"type":"point","filled":false,"size":7,"strokeWidth":1,"opacity":1}},
  {"data":{"name":"Rm"},"transform":[{"filter":"datum.k == 'f'"}],"mark":{"type":"point","filled":true,"size":16,"opacity":1}},
  {"data":{"name":"Rt"},"transform":[{"filter":"datum.k == 'm'"}],"mark":{"type":"text","align":"left","baseline":"alphabetic","fontSize":19},"encoding":{"text":{"field":"txt"}}},
  {"data":{"name":"Rt"},"transform":[{"filter":"datum.k == 'si'"}],"mark":{"type":"text","align":"left","baseline":"alphabetic","fontSize":12,"fontStyle":"italic"},"encoding":{"text":{"field":"txt"}}},
  {"data":{"name":"Rt"},"transform":[{"filter":"datum.k == 'su'"}],"mark":{"type":"text","align":"left","baseline":"alphabetic","fontSize":11},"encoding":{"text":{"field":"txt"}}},
  {"data":{"name":"Rt"},"transform":[{"filter":"datum.k == 'b'"}],"mark":{"type":"text","align":"center","baseline":"alphabetic","fontSize":18},"encoding":{"text":{"field":"txt"}}}
 ]
}
],
"spacing":92,
"bounds":"flush",
"center":true
}
